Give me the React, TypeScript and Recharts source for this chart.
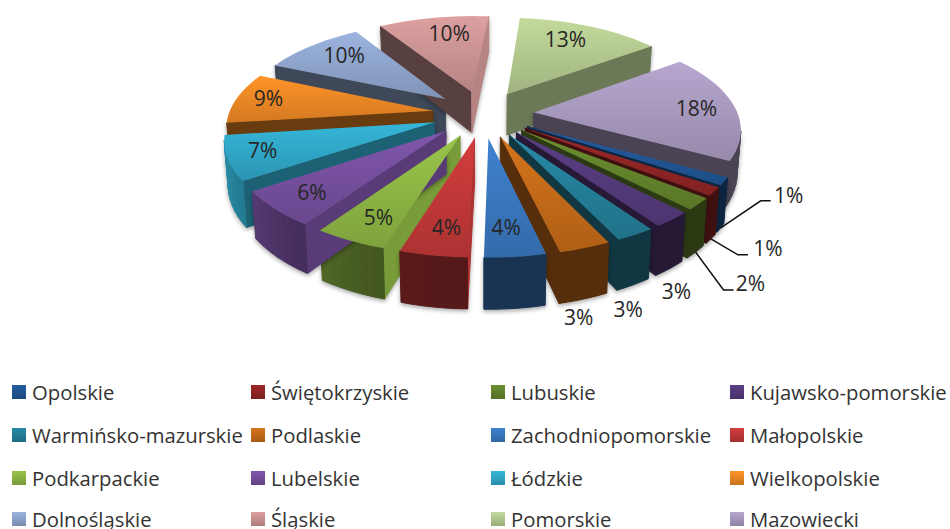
import { Legend, Pie, PieChart } from "recharts";

const REGIONS = [
  "Opolskie", "Świętokrzyskie", "Lubuskie", "Kujawsko-pomorskie",
  "Warmińsko-mazurskie", "Podlaskie", "Zachodniopomorskie", "Małopolskie",
  "Podkarpackie", "Lubelskie", "Łódzkie", "Wielkopolskie",
  "Dolnośląskie", "Śląskie", "Pomorskie", "Mazowiecki",
];
const SHARES = [1.3, 1.4, 2, 2.6, 2.6, 3.4, 4, 4.4, 4.8, 6, 7.4, 8.6, 9.6, 10.3, 13.4, 18.2];
const COLORS = [
  "#22599b", "#962626", "#67892e", "#573c80",
  "#25839e", "#cc6e1a", "#3c7cc6", "#c93a3a",
  "#92bc46", "#7a52a4", "#32adcf", "#f58d26",
  "#94abd4", "#d39898", "#bad095", "#ae9fc6",
];

const data = REGIONS.map((name, i) => ({ name, value: SHARES[i], fill: COLORS[i] }));

// tilted disk: perspective + per-slice explosion
const CX = 483;
const CY = 114;
const RADIUS = 204;
const TILT = 0.458;
const PERSP = 0.15;
const EXPLODE = 0.25;
const DEPTH = 42;

// walls are painted far to near, one Pie per depth band
const WALL_BANDS = [-1.01, -0.3, -0.05, 0.2, 0.4, 0.7, 0.92, 1.01];

type Pt = { x: number; y: number; w: number };

function project(u: number, v: number): Pt {
  const w = 1 - PERSP * v;
  return { x: CX + (RADIUS * u) / w, y: CY + (RADIUS * TILT * v) / w, w };
}

function onSlice(mid: number, angle: number, r: number): Pt {
  const rm = (mid * Math.PI) / 180;
  const ra = (angle * Math.PI) / 180;
  return project(
    EXPLODE * Math.cos(rm) + r * Math.cos(ra),
    -EXPLODE * Math.sin(rm) - r * Math.sin(ra),
  );
}

function below(p: Pt): Pt {
  return { x: CX + (p.x - CX) * 0.985, y: p.y + DEPTH / p.w, w: p.w };
}

function shade(hex: string, f: number) {
  const n = parseInt(hex.slice(1), 16);
  const c = [(n >> 16) & 255, (n >> 8) & 255, n & 255].map((v) =>
    Math.min(255, Math.round(v * f)),
  );
  return `rgb(${c[0]},${c[1]},${c[2]})`;
}

const toPath = (pts: Pt[]) =>
  "M" + pts.map((p) => `${p.x.toFixed(2)},${p.y.toFixed(2)}`).join("L") + "Z";

function arcAngles(start: number, end: number) {
  const n = Math.max(2, Math.ceil(Math.abs(end - start) / 3));
  return Array.from({ length: n + 1 }, (_, i) => start + ((end - start) * i) / n);
}

/** Walls only: a face is visible when its top edge runs right to left on screen. */
function wallShape(lo: number, hi: number) {
  return function WallShape(props: any) {
    const { startAngle, endAngle, fill } = props;
    const mid = (startAngle + endAngle) / 2;
    const depth = -Math.sin((mid * Math.PI) / 180);
    if (depth < lo || depth >= hi) return <g />;

    const tip = onSlice(mid, mid, 0);
    const angles = arcAngles(startAngle, endAngle);
    const faces: { pts: Pt[]; color: string }[] = [];
    const addFace = (a: Pt, b: Pt, f: number) => {
      if (b.x >= a.x) return;
      faces.push({ pts: [a, b, below(b), below(a)], color: shade(fill, f) });
    };
    // faces turned to the right catch more light
    const radialShade = (angle: number, side: number) => {
      const nx = -side * Math.sin((angle * Math.PI) / 180);
      return 0.42 + (nx > 0 ? 0.45 * nx * nx : 0);
    };
    addFace(tip, onSlice(mid, startAngle, 1), radialShade(startAngle, 1));
    addFace(onSlice(mid, endAngle, 1), tip, radialShade(endAngle, -1));
    angles.slice(1).forEach((a, i) => {
      const nx = Math.cos((((a + angles[i]) / 2) * Math.PI) / 180);
      const left = Math.max(0, -nx);
      addFace(onSlice(mid, angles[i], 1), onSlice(mid, a, 1), 0.42 + 0.4 * left * left);
    });
    return (
      <g style={{ filter: "drop-shadow(0px 2px 2px rgba(0,0,0,0.35))" }}>
        {faces.map((face, i) => (
          <path key={i} d={toPath(face.pts)} fill={face.color} stroke={face.color} strokeWidth={1} />
        ))}
      </g>
    );
  };
}

function TopShape(props: any) {
  const { startAngle, endAngle, fill } = props;
  const mid = (startAngle + endAngle) / 2;
  const pts = [
    onSlice(mid, mid, 0),
    ...arcAngles(startAngle, endAngle).map((a) => onSlice(mid, a, 1)),
  ];
  const id = `top-${fill.slice(1)}`;
  return (
    <g>
      <linearGradient id={id} x1="0" y1="0" x2="0" y2="1">
        <stop offset="0%" stopColor={shade(fill, 1.05)} />
        <stop offset="100%" stopColor={shade(fill, 0.86)} />
      </linearGradient>
      <path d={toPath(pts)} fill={`url(#${id})`} />
    </g>
  );
}

// small slices carry their label outside, measured from the foot of the rim
const OUTSIDE: Record<number, { text: [number, number]; knee?: [number, number] }> = {
  0: { knee: [40, -27], text: [68, -33] },
  1: { knee: [27, 16], text: [57, 9] },
  2: { knee: [28, 38], text: [55, 31] },
  3: { text: [7, 22] },
  4: { text: [-5, 24] },
  5: { text: [-5, 18] },
};

// hand nudges for the labels that sit on a slice
const NUDGE: Record<number, [number, number]> = {
  6: [-3, -3],
  7: [4, -2],
  8: [4, 0],
  9: [0, 0],
  10: [-8, -1],
  11: [-7, -2],
  12: [8, -1],
  13: [9, 2],
  14: [-10, 0],
  15: [2, 0],
};

function renderLabel(props: any) {
  const { index, value, midAngle } = props;
  const text = `${Math.round(value)}%`;
  const out = OUTSIDE[index];
  const style = { fontFamily: "'Open Sans'", fontSize: 21, fill: "#262626" };
  if (!out) {
    const p = onSlice(midAngle, midAngle, 0.8);
    const [dx, dy] = NUDGE[index];
    return (
      <text key={index} x={p.x + dx} y={p.y + dy} textAnchor="middle" dominantBaseline="central" style={style}>
        {text}
      </text>
    );
  }
  const foot = below(onSlice(midAngle, midAngle, 1));
  return (
    <g key={index}>
      {out.knee && (
        <polyline
          points={`${foot.x},${foot.y} ${foot.x + out.knee[0]},${foot.y + out.knee[1]} ${foot.x + out.knee[0] + 10},${foot.y + out.knee[1]}`}
          fill="none"
          stroke="#111"
          strokeWidth={1.5}
        />
      )}
      <text
        x={foot.x + out.text[0]}
        y={foot.y + out.text[1]}
        textAnchor="middle"
        dominantBaseline="central"
        style={style}
      >
        {text}
      </text>
    </g>
  );
}

const LEGEND_X = [12, 251, 491, 730];
const LEGEND_Y = [392, 435, 478, 519];

function LegendGrid() {
  return (
    <div style={{ position: "relative", width: 950, height: 529 }}>
      {REGIONS.map((name, i) => (
        <div
          key={name}
          style={{
            position: "absolute",
            left: LEGEND_X[i % 4],
            top: LEGEND_Y[Math.floor(i / 4)] - 14,
            height: 28,
            display: "flex",
            alignItems: "center",
            whiteSpace: "nowrap",
            fontFamily: "'Open Sans'",
            fontSize: 20.3,
            color: "#333",
          }}
        >
          <span
            style={{
              width: 14,
              height: 14,
              marginRight: 6,
              background: `linear-gradient(${shade(COLORS[i], 1.05)}, ${shade(COLORS[i], 0.82)})`,
            }}
          />
          {name}
        </div>
      ))}
    </div>
  );
}

const pieProps = {
  data,
  dataKey: "value",
  nameKey: "name",
  cx: CX,
  cy: CY,
  outerRadius: RADIUS,
  startAngle: -29,
  endAngle: -389,
  paddingAngle: 0,
  stroke: "none",
  isAnimationActive: false,
};

const wallLayers = WALL_BANDS.slice(1).map((hi, i) => wallShape(WALL_BANDS[i], hi));

export default function App() {
  return (
    <div style={{ position: "absolute", left: 0, top: 0, width: 950, height: 529, overflow: "hidden", background: "#fff" }}>
      <PieChart width={950} height={529} margin={{ top: 0, right: 0, bottom: 0, left: 0 }}>
        {wallLayers.map((shape, i) => (
          <Pie key={i} {...pieProps} shape={shape} />
        ))}
        <Pie {...pieProps} shape={TopShape} label={renderLabel} labelLine={false} />
        <Legend content={LegendGrid} wrapperStyle={{ left: 0, top: 0, width: 950, height: 529 }} />
      </PieChart>
    </div>
  );
}
